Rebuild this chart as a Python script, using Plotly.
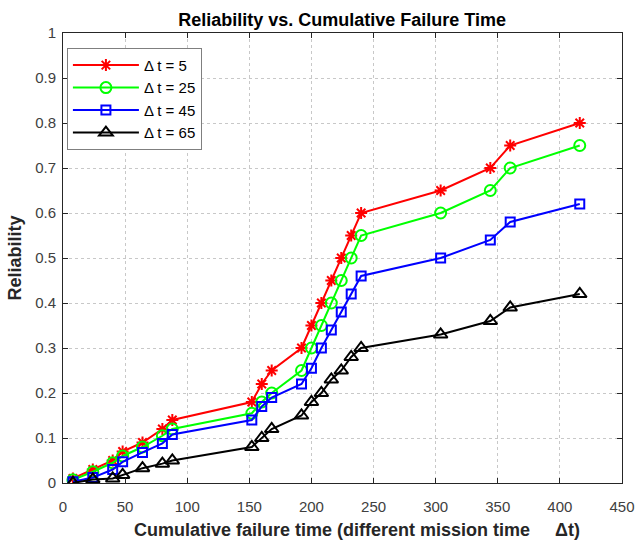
import plotly.graph_objects as go

x = [8, 24, 40, 48, 64, 80, 88, 152, 160, 168, 192, 200, 208, 216, 224, 232, 240, 304, 344, 360, 416]
r_dt5 = [0.01, 0.03, 0.05, 0.07, 0.09, 0.12, 0.14, 0.18, 0.22, 0.25, 0.30, 0.35, 0.40, 0.45, 0.50, 0.55, 0.60, 0.65, 0.70, 0.75, 0.80]
r_dt25 = [0.007, 0.025, 0.045, 0.06, 0.08, 0.105, 0.12, 0.155, 0.18, 0.20, 0.25, 0.30, 0.35, 0.40, 0.45, 0.50, 0.55, 0.60, 0.65, 0.70, 0.75]
r_dt45 = [0.003, 0.012, 0.03, 0.047, 0.068, 0.088, 0.108, 0.14, 0.17, 0.19, 0.22, 0.255, 0.30, 0.34, 0.38, 0.42, 0.46, 0.50, 0.54, 0.58, 0.62]
r_dt65 = [0.0, 0.008, 0.01, 0.018, 0.033, 0.043, 0.05, 0.08, 0.10, 0.12, 0.15, 0.18, 0.20, 0.23, 0.25, 0.28, 0.30, 0.33, 0.36, 0.39, 0.42]

series = [
    ("Δ t = 5", r_dt5, "#ff0000", "asterisk-open", 10),
    ("Δ t = 25", r_dt25, "#00ff00", "circle-open", 11),
    ("Δ t = 45", r_dt45, "#0000ff", "square-open", 9),
    ("Δ t = 65", r_dt65, "#000000", "triangle-up-open", 12),
]

fig = go.Figure()
for name, y, col, sym, sz in series:
    fig.add_trace(go.Scatter(
        x=x, y=y, name=name, mode="lines+markers",
        line=dict(color=col, width=2),
        marker=dict(symbol=sym, size=sz, color=col, line=dict(color=col, width=2)),
    ))

axis_common = dict(
    showline=True, linecolor="#262626", linewidth=1, mirror="ticks",
    ticks="inside", ticklen=5, tickcolor="#262626",
    showgrid=True, gridcolor="#c8c8c8", griddash="dot", gridwidth=1,
    zeroline=False, automargin=False,
    tickfont=dict(family="Liberation Sans, Arial", size=15, color="#404040"),
)

fig.update_layout(
    width=636, height=541,
    margin=dict(l=63, r=14, t=33, b=58),
    paper_bgcolor="white", plot_bgcolor="white",
    font=dict(family="Liberation Sans, Arial", color="#262626"),
    title=dict(text="<b>Reliability vs. Cumulative Failure Time</b>",
               x=0.538, xanchor="center", y=0.964, yanchor="middle",
               font=dict(size=18, color="#000000")),
    xaxis=dict(range=[0, 450], dtick=50, ticklabelstandoff=10, **axis_common),
    yaxis=dict(range=[0, 1], dtick=0.1, tickformat="~g", ticklabelstandoff=3,
               title=dict(text="<b>Reliability</b>", font=dict(size=18, color="#262626"), standoff=8),
               **axis_common),
    legend=dict(x=0.007, y=0.967, xanchor="left", yanchor="top",
                bgcolor="white", bordercolor="#7f7f7f", borderwidth=1,
                font=dict(size=15, color="#000000"), tracegroupgap=0,
                itemwidth=66),
    showlegend=True,
    annotations=[dict(
        text="<b>Cumulative failure time (different mission time     Δt)</b>",
        xref="paper", yref="paper", x=0.526, y=-0.104,
        xanchor="center", yanchor="middle", showarrow=False,
        font=dict(size=18, color="#262626", family="Liberation Sans, Arial"),
    )],
)

fig.write_html("out.html")
